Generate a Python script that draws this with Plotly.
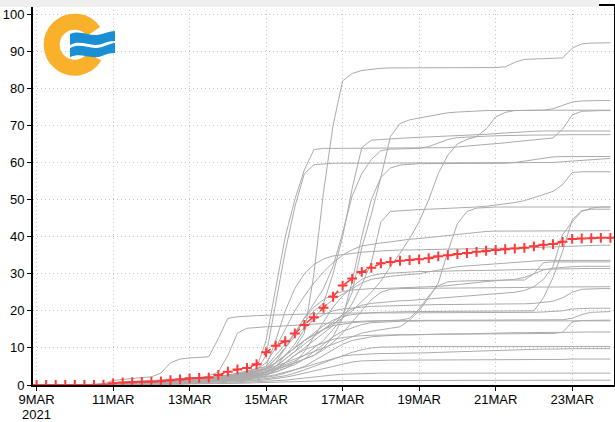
import base64
import pandas as pd
import plotly.graph_objects as go

# ---------------- data (6-hourly, 9 MAR 2021 00Z .. 24 MAR 2021 00Z) ----------------
start_time = "2021-03-09 00:00"
end_time = "2021-03-24 00:00"

tick_dates = ["2021-03-09", "2021-03-11", "2021-03-13", "2021-03-15",
              "2021-03-17", "2021-03-19", "2021-03-21", "2021-03-23"]
tick_labels = ["9MAR", "11MAR", "13MAR", "15MAR",
               "17MAR", "19MAR", "21MAR", "23MAR"]
year_label = "2021"
y_ticks = [0, 10, 20, 30, 40, 50, 60, 70, 80, 90, 100]

m01 = [0,0,0,0, 0,0,0,0, 0.5,0.8,1.0,1.0, 1.2,1.3,1.5,1.6, 1.8,2.0,2.2,2.4,
       2.6,3.0,3.4,3.8, 4.5,6.0,8.0,10.0, 14,30,52,70, 82,84,84.8,85.2,
       85.4,85.5,85.5,85.6, 85.6,85.6,85.6,85.6, 85.6,85.6,85.6,85.6,
       85.6,85.8,87.0,87.8, 88.0,88.0,88.1,88.2, 90.8,92.0,92.2,92.3, 92.3]
m02 = [0,0,0,0, 0,0,0,0, 0.3,0.5,0.6,0.7, 0.8,0.9,1.0,1.1, 1.2,1.3,1.5,1.7,
       2.0,2.3,2.6,3.0, 3.5,4.5,6,8, 10,12,14,16, 19,25,37,46,
       56,67,70.5,71.5, 72,72.5,73,73.4, 73.6,73.8,73.9,74, 74,74,74,74,
       74,74.1,74.5,75.5, 76.3,76.6,76.7,76.7, 76.7]
m03 = [0,0,0,0, 0,0,0,0, 0.2,0.4,0.5,0.6, 0.7,0.8,0.9,1.0, 1.1,1.2,1.4,1.6,
       1.8,2.1,2.5,3.0, 4,6,8,10, 12,13.5,15,16.5, 18,20,22.5,25,
       28,32,35.5,39.5, 44,50,57,62, 65,66.2,67,69, 72.3,73.5,74,74.1,
       74.1,74.1,74.1,74.1, 74.1,74.1,74.1,74.1, 74.1]
m04 = [0,0,0,0, 0,0,0,0, 0.5,0.8,0.9,1.0, 1.1,1.2,1.3,1.4, 1.5,1.7,1.9,2.2,
       2.5,3.0,3.6,4.5, 12,26,40,50, 58,63.5,63.8,63.8, 63.8,63.8,63.8,63.8,
       63.8,63.8,63.8,63.8, 63.8,63.8,63.9,64.0, 64.2,64.4,64.6,64.8,
       65.0,65.3,65.6,65.8, 66.0,66.2,66.6,69.0, 72.8,73.8,74.0,74.0, 74.0]
m05 = [0,0,0,0, 0,0,0,0, 0.3,0.6,0.7,0.8, 0.9,1.0,1.0,1.1, 1.2,1.3,1.5,1.8,
       2.2,2.7,3.2,3.8, 5,8,11,14, 17,20,22,30, 40,53,64,66,
       66.2,66.4,66.6,66.7, 66.8,66.9,67.0,67.1, 67.2,67.3,67.4,67.6,
       67.8,68.0,68.2,68.3, 68.4,68.5,68.5,68.5, 68.5,68.5,68.5,68.5, 68.5]
m06 = [0,0,0,0, 0,0,0,0, 0.2,0.3,0.4,0.5, 0.6,0.7,0.8,0.9, 1.0,1.1,1.3,1.5,
       1.8,2.2,2.7,3.3, 4.5,7,10,14, 18,22,26,32, 41,51,57,60.8,
       63.2,63.6,63.7,63.8, 63.8,64.3,65.3,66.2, 66.7,66.9,67.0,67.1,
       67.2,67.3,67.3,67.4, 67.4,67.4,67.5,67.5, 67.5,67.5,67.5,67.5, 67.5]
m07 = [0,0,0,0, 0,0,0,0, 0.4,0.6,0.7,0.8, 0.9,1.0,1.1,1.2, 1.3,1.5,1.7,2.0,
       2.3,2.7,3.2,3.8, 8,22,36,48, 57,59.4,59.7,59.8, 59.8,59.8,59.8,59.8,
       59.8,59.8,59.8,59.8, 59.8,59.8,59.8,59.8, 59.8,59.8,59.8,59.8,
       59.8,59.8,59.8,59.8, 59.8,59.9,60.0,60.2, 60.4,60.6,60.8,61.0, 61.1]
m08 = [0,0,0,0, 0,0,0,0, 0.2,0.3,0.4,0.5, 0.6,0.6,0.7,0.8, 0.9,1.0,1.1,1.3,
       1.5,1.8,2.1,2.5, 3,4,5,6, 7,8,10,13, 18,28,40,50,
       56,58.5,59.3,59.6, 59.7,59.7,59.7,59.7, 59.7,59.7,59.7,59.7,
       59.7,59.8,60.0,60.4, 60.8,61.3,61.5,61.6, 61.6,61.6,61.6,61.6, 61.6]
m09 = [0,0,0,0, 0,0,0,0, 0.3,0.5,0.6,0.7, 0.8,0.9,1.0,1.0, 1.1,1.2,1.3,1.5,
       1.7,2.0,2.4,2.8, 3.5,4.5,5.5,6.5, 8,10,12,15, 18,22,27,33,
       44,46.8,47.0,47.2, 47.3,47.4,47.5,47.6, 47.7,47.8,48.0,48.2,
       48.5,48.8,49.2,49.7, 50.5,51.2,52.2,54.0, 57.3,57.5,57.5,57.5, 57.5]
m10 = [0,0,0,0, 0,0,0,0, 0.3,0.4,0.5,0.6, 0.7,0.8,0.9,1.0, 1.1,1.2,1.4,1.6,
       1.9,2.3,2.8,3.4, 4.2,5,6,7, 8,9,10,11, 12,13,14,14.5,
       15,15.3,15.7,17.5, 20,23.5,27.5,36, 43.5,46.8,47.7,47.9,
       48,48,48,48, 48,48,48,48, 48,48,48,48, 48]
m11 = [0,0,0,0, 0,0,0,0, 0.2,0.3,0.4,0.5, 0.6,0.7,0.8,0.8, 0.9,1.0,1.2,1.4,
       1.6,1.9,2.3,2.8, 3.5,5,7,9, 11,13,15,17, 19,20.5,21.5,22,
       22.3,22.5,22.7,22.8, 23,23.2,23.4,23.6, 23.8,24,24.2,24.4,
       24.6,24.8,25,25.5, 26.5,28.5,32,40.5, 44,46.8,47.7,48.0, 48.0]
m12 = [0,0,0,0, 0,0,0,0, 0.4,0.6,0.7,0.8, 0.9,1.0,1.1,1.2, 1.3,1.5,1.7,2.0,
       2.4,2.9,3.5,4.2, 6,10,15,20, 24,27.5,30.5,33, 35,36.5,37.5,38,
       38.3,38.6,39.0,39.3, 39.5,39.8,40.1,40.4, 40.7,41.0,41.2,41.4,
       41.5,41.5,41.5,41.5, 41.5,41.5,41.6,41.6, 41.6,41.6,41.6,41.6, 41.6]
m13 = [0,0,0,0, 0,0,0,0, 0.5,0.8,0.9,1.0, 1.1,1.2,1.3,1.4, 1.6,1.8,2.0,2.3,
       2.7,3.2,3.8,4.5, 5,12,20,26, 30,32.5,34,34.8, 35.2,35.5,35.8,36.0,
       36.2,36.3,36.4,36.4, 36.5,36.5,36.6,36.6, 36.7,36.7,36.8,36.8,
       36.8,36.9,36.9,37.0, 37.0,37.2,37.4,37.5, 37.6,37.7,37.7,37.7, 37.7]
m14 = [0,0,0,0, 0,0,0,0, 0.2,0.4,0.5,0.5, 0.6,0.7,0.7,0.8, 0.9,1.0,1.1,1.3,
       1.5,1.8,2.2,2.7, 3.3,5,8,11, 15,18,21,23, 24.5,26,27.5,28.5,
       29,29.3,29.6,29.8, 30,30.5,31,31.5, 31.9,32.1,32.3,32.5,
       32.7,32.8,33.0,33.2, 33.5,33.6,33.6,33.6, 33.6,33.6,33.6,33.6, 33.6]
m15 = [0,0,0,0, 0,0,0,0, 0.3,0.5,0.6,0.7, 0.8,0.8,0.9,1.0, 1.1,1.2,1.4,1.6,
       1.9,2.2,2.6,3.0, 3.5,5,7,9, 12,13.5,15,16, 16.5,16.8,17,17.2,
       17.3,17.4,17.5,18, 20.5,24,26.8,27.8, 28,28.1,28.2,28.2,
       28.3,28.3,28.3,28.3, 30,33,33.2,33.2, 33.2,33.2,33.2,33.2, 33.2]
m16 = [0,0,0,0, 0,0,0,0, 0.3,0.4,0.5,0.6, 0.7,0.8,0.9,0.9, 1.0,1.1,1.3,1.5,
       1.7,2.0,2.4,2.9, 3.5,6,10,14, 18,21,23,24.5, 25.2,25.6,25.9,26.0,
       26.0,26.1,26.1,26.1, 26.2,26.4,26.6,26.8, 27,27.3,27.6,27.9,
       28.1,28.3,28.5,29, 30,31,31.5,31.8, 31.9,32,32,32, 32]
m17 = [0,0,0,0, 0,0,0,0, 0.2,0.3,0.3,0.4, 0.5,0.5,0.6,0.7, 0.8,0.9,1.0,1.1,
       1.3,1.5,1.8,2.2, 2.8,3.5,4.5,6, 9,13,17,21, 24,26.5,28.5,29.5,
       30,30.2,30.4,30.5, 30.6,30.6,30.7,30.7, 30.8,30.8,30.9,30.9,
       31.0,31.0,31.1,31.1, 31.2,31.2,31.3,31.3, 31.4,31.4,31.4,31.4, 31.4]
m18 = [0,0,0,0, 0,0,0,0, 0.3,0.5,0.6,0.6, 0.7,0.8,0.8,0.9, 1.0,1.1,1.2,1.4,
       1.6,1.9,2.3,2.8, 3.4,4.2,5,6, 7,8,9.5,11.5, 14,17,20,23,
       25,25.8,26,26.1, 26.1,26.1,26.1,26.1, 26.2,26.2,26.2,26.2,
       26.3,26.3,26.3,26.3, 26.4,26.4,26.4,26.4, 26.5,26.5,26.5,26.5, 26.5]
m19 = [0,0,0,0, 0,0,0,0, 0.4,0.6,0.7,0.8, 0.9,1.0,1.1,1.2, 1.3,1.4,1.6,1.9,
       2.2,2.6,3.1,3.7, 4.5,7,10,13, 15.5,17.5,19,20, 20.5,20.8,21,21.2,
       21.3,21.4,21.5,21.6, 21.6,21.6,21.7,21.7, 21.7,21.8,21.8,21.8,
       21.9,21.9,21.9,21.9, 22,22.2,22.6,23.5, 25,25.8,26,26, 26]
m20 = [0,0,0,0, 0,0,0,0.3, 1.2,1.5,1.8,2.0, 2.2,3.2,6.0,7.0, 7.3,7.5,7.6,12.5,
       18.0,18.4,18.6,18.7, 18.8,18.9,19.0,19.1, 19.2,19.3,19.3,19.4,
       19.4,19.4,19.4,19.4, 19.5,19.5,19.5,19.5, 19.5,19.5,19.5,19.5,
       19.5,19.5,19.5,19.5, 19.6,19.6,19.6,19.6, 19.6,19.7,19.8,20.0,
       20.5,20.7,20.7,20.7, 20.7]
m21 = [0,0,0,0, 0,0,0,0, 0.2,0.3,0.4,0.5, 0.5,0.6,0.7,0.8, 1.0,1.5,2.5,3.5,
       8,14,15.3,15.6, 15.7,15.8,15.9,16, 16.2,16.4,16.6,16.8, 17,17.1,17.2,17.3,
       17.4,17.4,17.4,17.4, 17.4,17.4,17.4,17.4, 17.5,17.5,17.5,17.5,
       17.5,17.5,17.5,17.5, 17.5,17.5,17.6,17.6, 18,19,19.6,19.8, 19.8]
m22 = [0,0,0,0, 0,0,0,0, 0.2,0.3,0.4,0.4, 0.5,0.5,0.6,0.6, 0.7,0.8,0.9,1.0,
       1.2,1.4,1.7,2.0, 2.5,4,6,8, 9.5,10.5,11.5,12.3, 12.8,13.1,13.3,13.4,
       13.5,13.5,13.6,13.6, 13.6,13.7,13.7,13.7, 13.7,13.8,13.8,13.8,
       13.8,13.8,13.8,13.8, 13.8,13.9,13.9,14.2, 17,17.4,17.5,17.5, 17.5]
m23 = [0,0,0,0, 0,0,0,0, 0.3,0.4,0.5,0.5, 0.6,0.6,0.7,0.7, 0.8,0.9,1.0,1.2,
       1.4,1.7,2.0,2.4, 2.9,3.5,4.5,5.5, 7,9,11,13, 14.5,15.5,16.3,16.8,
       17,17.1,17.2,17.2, 17.3,17.3,17.3,17.3, 17.3,17.3,17.3,17.3,
       17.3,17.3,17.3,17.3, 17.3,17.3,17.3,17.3, 17.3,17.3,17.3,17.3, 17.3]
m24 = [0,0,0,0, 0,0,0,0, 0.1,0.2,0.3,0.3, 0.4,0.4,0.5,0.5, 0.6,0.7,0.8,0.9,
       1.0,1.2,1.4,1.7, 2.0,2.5,3.2,4, 5,6.5,8,9.5, 11,12,12.6,13,
       13.2,13.4,13.5,13.5, 13.6,13.6,13.7,13.7, 13.8,13.8,13.9,13.9,
       14.0,14.0,14.1,14.1, 14.2,14.2,14.2,14.2, 14.3,14.3,14.3,14.3, 14.3]
m25 = [0,0,0,0, 0,0,0,0, 0.1,0.2,0.2,0.3, 0.3,0.4,0.4,0.5, 0.5,0.6,0.7,0.8,
       0.9,1.0,1.2,1.4, 1.7,2.0,2.5,3.2, 4,5,6,7, 8,8.8,9.5,10,
       10.2,10.3,10.4,10.4, 10.4,10.4,10.4,10.4, 10.4,10.4,10.4,10.4,
       10.4,10.4,10.4,10.4, 10.4,10.4,10.4,10.4, 10.4,10.4,10.4,10.4, 10.4]
m26 = [0,0,0,0, 0,0,0,0, 0.1,0.1,0.2,0.2, 0.3,0.3,0.3,0.4, 0.4,0.5,0.5,0.6,
       0.7,0.8,1.0,1.2, 1.4,1.7,2.1,2.6, 3.2,3.8,4.5,5.2, 5.8,6.2,6.5,6.6,
       6.7,6.7,6.7,6.7, 6.7,6.7,6.7,6.7, 6.8,6.8,6.8,6.8,
       6.8,6.8,6.8,6.8, 6.9,6.9,6.9,6.9, 7.0,7.0,7.0,7.0, 7.0]
m27 = [0,0,0,0, 0,0,0,0, 0.1,0.1,0.1,0.2, 0.2,0.2,0.3,0.3, 0.3,0.4,0.4,0.5,
       0.5,0.6,0.7,0.8, 0.9,1.1,1.3,1.6, 1.9,2.2,2.5,2.7, 2.9,3.0,3.1,3.1,
       3.2,3.2,3.2,3.2, 3.2,3.2,3.2,3.2, 3.2,3.2,3.2,3.2,
       3.2,3.2,3.2,3.2, 3.2,3.2,3.2,3.2, 3.2,3.2,3.2,3.2, 3.2]
m28 = [0,0,0,0, 0,0,0,0, 0.2,0.3,0.3,0.4, 0.4,0.5,0.5,0.6, 0.7,0.8,0.9,1.0,
       1.2,1.4,1.6,1.9, 2.3,2.8,3.4,4.0, 4.8,5.6,6.4,7.2, 7.8,8.1,8.3,8.4,
       8.5,8.5,8.5,8.6, 8.6,8.7,8.8,8.9, 9.0,9.1,9.2,9.3,
       9.4,9.5,9.6,9.6, 9.7,9.7,9.7,9.8, 9.8,9.8,9.8,9.8, 9.8]
m29 = [0,0,0,0, 0,0,0,0, 0.1,0.1,0.1,0.1, 0.2,0.2,0.2,0.2, 0.3,0.3,0.3,0.4,
       0.4,0.5,0.5,0.6, 0.7,0.8,0.9,1.0, 1.1,1.1,1.2,1.2, 1.2,1.2,1.3,1.3,
       1.3,1.3,1.3,1.3, 1.3,1.3,1.3,1.3, 1.3,1.3,1.3,1.3,
       1.3,1.3,1.3,1.3, 1.3,1.3,1.3,1.3, 1.3,1.3,1.3,1.3, 1.3]
m30 = [0,0,0,0, 0,0,0,0, 0.3,0.5,0.6,0.7, 0.8,0.9,1.0,1.1, 1.2,1.3,1.5,1.7,
       2.0,2.4,2.9,3.5, 4.5,6,8,10, 12,14,16,17.5, 18.5,19,19.3,19.5,
       19.6,19.7,19.7,19.8, 19.8,19.8,19.8,19.8, 19.8,19.8,19.8,19.8,
       19.8,19.8,19.8,19.8, 20.0,23.5,29,36, 44.5,47,47.4,47.4, 47.4]

ens_mean = [0,0,0,0, 0,0,0,0.1, 0.45,0.7,0.75,0.85, 0.9,1.0,1.3,1.5,
            1.8,1.9,2.0,2.7, 3.6,4.2,4.6,5.6, 8.8,10.6,11.8,13.9,
            16.2,18.3,20.8,23.8, 26.8,28.7,30.5,31.6, 32.8,33.2,33.5,33.7,
            33.9,34.2,34.7,35.0, 35.3,35.6,35.9,36.2, 36.4,36.6,36.8,37.0,
            37.4,37.8,38.0,38.6, 39.4,39.5,39.6,39.7, 39.7]

members = [m01, m02, m03, m04, m05, m06, m07, m08, m09, m10,
           m11, m12, m13, m14, m15, m16, m17, m18, m19, m20,
           m21, m22, m23, m24, m25, m26, m27, m28, m29, m30]

times = pd.date_range(start_time, end_time, freq="6h")

# ---------------- figure ----------------
fig = go.Figure()
for m in members:
    fig.add_trace(go.Scatter(x=times, y=m, mode="lines",
                             line=dict(color="#ababab", width=1),
                             hoverinfo="skip", showlegend=False))

fig.add_trace(go.Scatter(x=times, y=ens_mean, mode="lines+markers",
                         line=dict(color="#ff3a3a", width=1.5, dash="dash"),
                         marker=dict(symbol="cross-thin", size=7,
                                     line=dict(color="#ff3a3a", width=2)),
                         showlegend=False))

W, H = 615, 422
L, R, T, B = 33, 1, 6, 37
pw, ph = W - L - R, H - T - B

# logo (decoration) as inline SVG
svg = ('<svg xmlns="http://www.w3.org/2000/svg" width="80" height="70" viewBox="0 0 80 70">'
       '<path d="M53.5,21.5 A23,23 0 1,0 54.4,46.5" fill="none" stroke="#f9b12b" stroke-width="16"/>'
       '<path d="M30,24 C42,19 50,28 62,24 C68,22 72,21 75,21 L75,31 C70,31 66,32 62,34 '
       'C50,38 42,29 30,35 Z" fill="#1a8fd4"/>'
       '<path d="M30,38 C42,32 50,41 62,37 C68,35 72,33 75,33 L75,43 C70,43 66,44 62,46 '
       'C50,50 42,42 30,47 Z" fill="#1a8fd4"/>'
       '</svg>')
logo_src = "data:image/svg+xml;base64," + base64.b64encode(svg.encode()).decode()

fig.add_layout_image(dict(source=logo_src, xref="paper", yref="paper",
                          x=(40 - L) / pw, y=1 - (10 - T) / ph,
                          sizex=80 / pw, sizey=70 / ph,
                          xanchor="left", yanchor="top", sizing="stretch",
                          layer="above"))

# light strip at the very top of the picture
fig.add_shape(type="rect", xref="paper", yref="paper",
              x0=-L / pw, x1=(599 - L) / pw, y0=1 - 1.0 / ph, y1=1 + T / ph,
              fillcolor="#efefef", line=dict(width=0), layer="above")

x_font = dict(family="Liberation Sans, Arial, sans-serif", size=13, color="black")
y_font = dict(family="Liberation Sans, Arial, sans-serif", size=13, color="black")

# year under the first date label
fig.add_annotation(x=pd.to_datetime(tick_dates[0]), y=0, xref="x", yref="y",
                   text=year_label, showarrow=False, font=x_font,
                   xanchor="center", yanchor="top", yshift=-20)

fig.update_layout(
    width=W, height=H,
    margin=dict(l=L, r=R, t=T, b=B, pad=0, autoexpand=False),
    paper_bgcolor="white", plot_bgcolor="white",
    showlegend=False,
    xaxis=dict(
        range=["2021-03-08 21:45", "2021-03-24 02:15"],
        tickvals=pd.to_datetime(tick_dates), ticktext=tick_labels,
        tickangle=0, automargin=False, ticklabelstandoff=-3,
        showline=True, linecolor="black", linewidth=2, mirror=True,
        ticks="outside", ticklen=4, tickcolor="black", tickwidth=1,
        showgrid=True, gridcolor="#c4c4c4", gridwidth=1, griddash="1px,3px",
        tickfont=x_font, zeroline=False,
    ),
    yaxis=dict(
        range=[0, 102.2],
        tickvals=y_ticks, automargin=False,
        showline=True, linecolor="black", linewidth=2, mirror=True,
        ticks="outside", ticklen=4, tickcolor="black", tickwidth=1,
        showgrid=True, gridcolor="#c4c4c4", gridwidth=1, griddash="1px,3px",
        tickfont=y_font, zeroline=False,
    ),
)

fig.write_html("out.html", config={"displayModeBar": False},
               post_script="document.body.style.margin='0';")
